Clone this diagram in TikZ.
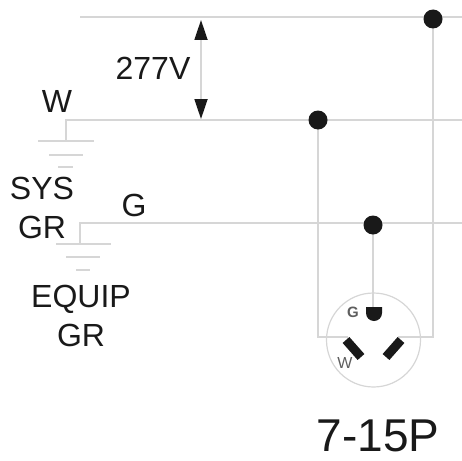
\documentclass[tikz,border=0pt]{standalone}
\usepackage{fontspec}
\setmainfont{Liberation Sans}
\usetikzlibrary{arrows.meta}
\definecolor{wire}{gray}{0.84}
\definecolor{ink}{gray}{0.1}
\tikzset{
 wireline/.style={draw=wire,line width=1.2pt},
 dot/.style={circle,fill=ink,draw=none,minimum size=19pt,inner sep=0pt},
 lab/.style={text=ink,font=\fontsize{32}{39}\selectfont,inner sep=0pt,align=center},
 small/.style={text=ink!70,inner sep=0pt},
 big/.style={text=ink,font=\fontsize{46}{46}\selectfont,inner sep=0pt},
 blade/.style={draw=ink,line width=9pt,line cap=butt},
 dim/.style={draw=wire,line width=1.8pt,{Triangle[length=20pt,width=13pt,color=ink]}-{Triangle[length=20pt,width=13pt,color=ink]}}
}
\begin{document}
\begin{tikzpicture}[x=1pt,y=-1pt]
\useasboundingbox (0,0) rectangle (462,460);
% bus ends
\coordinate (topL) at (80,17);
\coordinate (topR) at (462,17);
\coordinate (wL) at (66,120);
\coordinate (wR) at (462,120);
\coordinate (gL) at (80,223);
\coordinate (gR) at (462,223);
\coordinate (wGnd) at (66,141);
\coordinate (gGnd) at (80,244);
\coordinate (hotTurn) at (433,337);
\coordinate (hotEnd) at (398,337);
\coordinate (neuTurn) at (318,337);
\coordinate (neuEnd) at (348,337);
\coordinate (gEnd) at (373,310);
\coordinate (dimTop) at (201,20);
\coordinate (dimBot) at (201,119);
\coordinate (d1p) at (433,19);
\coordinate (d2p) at (318,120);
\coordinate (d3p) at (373,225);
% wires
\draw[wireline] (topL) -- (topR);
\draw[wireline] (wGnd) -- (wL) -- (wR);
\draw[wireline] (gGnd) -- (gL) -- (gR);
% grounds
\draw[wireline] (38,141) -- (94,141);
\draw[wireline] (49,155) -- (83,155);
\draw[wireline] (58,167) -- (73,167);
\draw[wireline] (56,244) -- (111,244);
\draw[wireline] (66,257) -- (100,257);
\draw[wireline] (76,270) -- (90,270);
% receptacle
\draw[wireline] (373.5,340) circle (47);
\draw[wireline] (d1p) -- (hotTurn) -- (hotEnd);
\draw[wireline] (d2p) -- (neuTurn) -- (neuEnd);
\draw[wireline] (d3p) -- (gEnd);
\node[dot] (d1) at (d1p) {};
\node[dot] (d2) at (d2p) {};
\node[dot] (d3) at (d3p) {};
\fill[ink] (366,307) -- (382,307) -- (382,313) arc[start angle=0,end angle=180,radius=8] -- cycle;
\draw[blade] (346,340) -- (361,357);
\draw[blade] (401,340) -- (386,357);
% dimension
\draw[dim] (dimTop) -- (dimBot);
% labels
\node[lab] (v) at (153,68) {277V};
\node[lab] (w) at (57,101) {W};
\node[lab] (sys) at (42,208) {SYS\\GR};
\node[lab] (g) at (134,205) {G};
\node[lab] (eq) at (81,316) {EQUIP\\GR};
\node[small,font=\fontsize{15}{15}\selectfont\bfseries] (sg) at (353,312) {G};
\node[small,font=\fontsize{16}{16}\selectfont] (sw) at (345,363) {W};
\node[big] (name) at (378,436) {7-15P};
\end{tikzpicture}
\end{document}
